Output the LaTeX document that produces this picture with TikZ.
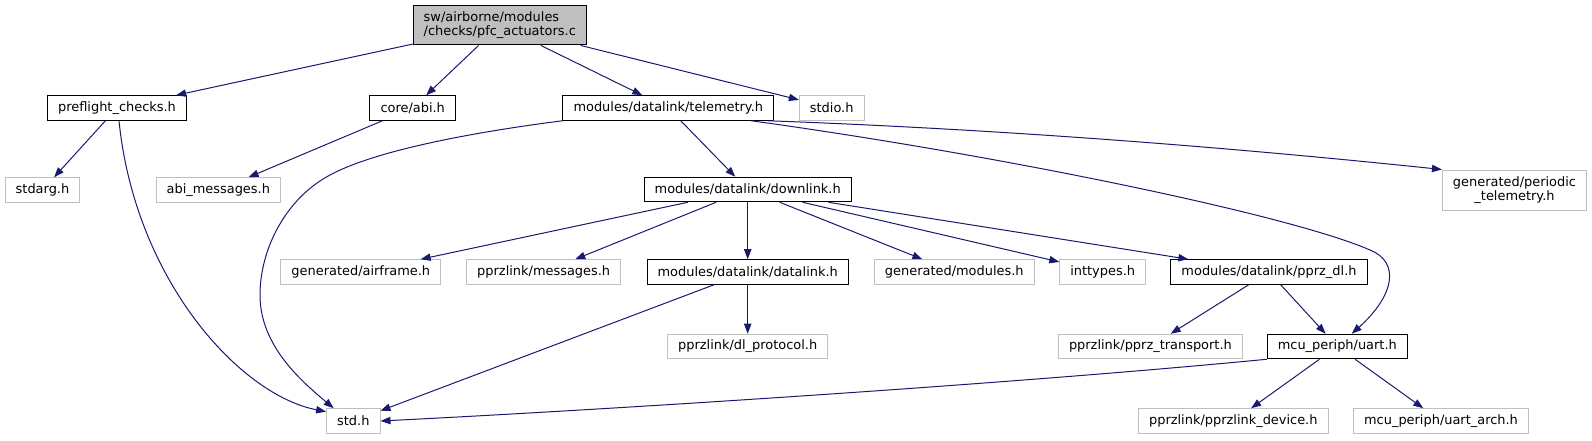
\documentclass[tikz,border=0pt]{standalone}
\usepackage{fontspec}
\setmainfont{DejaVu Sans}
\usetikzlibrary{arrows.meta}
\definecolor{dxblue}{HTML}{191970}
\definecolor{dxgray}{HTML}{BFBFBF}
\begin{document}
\begin{tikzpicture}[x=0.75pt,y=-0.75pt,
  hdrbox/.style={draw=black,fill=white,line width=0.75pt,minimum height=18.4pt,inner xsep=7.9pt,inner ysep=0pt,font=\fontsize{9.7}{10.3}\selectfont},
  extbox/.style={hdrbox,draw=dxgray},
  srcbox/.style={hdrbox,fill=dxgray,align=left,minimum height=29.5pt},
  incl/.style={draw=dxblue,line width=0.75pt,-{Triangle[length=7.5pt,width=5.5pt]}}]
  \useasboundingbox (0,0) rectangle (1592,440);
  \node[srcbox] (root) at (499.8,25.3) {sw/airborne/modules\\/checks/pfc\_actuators.c};
  \node[hdrbox] (pre) at (117,108) {preflight\_checks.h};
  \node[hdrbox] (abi) at (412.7,108) {core/abi.h};
  \node[hdrbox] (tele) at (668.3,108) {modules/datalink/telemetry.h};
  \node[extbox] (stdio) at (831.7,108) {stdio.h};
  \node[extbox] (stdarg) at (42.5,190) {stdarg.h};
  \node[extbox] (abimsg) at (218.3,190) {abi\_messages.h};
  \node[hdrbox] (down) at (747.7,189.5) {modules/datalink/downlink.h};
  \node[extbox,align=center,minimum height=30pt] (peri) at (1514.5,190) {generated/periodic\\\_telemetry.h};
  \node[extbox] (airframe) at (360.8,272) {generated/airframe.h};
  \node[extbox] (msgs) at (543.7,272) {pprzlink/messages.h};
  \node[hdrbox] (dlink) at (747.7,272) {modules/datalink/datalink.h};
  \node[extbox] (genmod) at (954.3,272) {generated/modules.h};
  \node[extbox] (inttypes) at (1102.7,272) {inttypes.h};
  \node[hdrbox] (pprzdl) at (1269,272) {modules/datalink/pprz\_dl.h};
  \node[extbox] (dlproto) at (747.7,346.5) {pprzlink/dl\_protocol.h};
  \node[extbox] (transport) at (1150.4,346.5) {pprzlink/pprz\_transport.h};
  \node[hdrbox] (uart) at (1337.3,346.5) {mcu\_periph/uart.h};
  \node[extbox] (std) at (353.3,421) {std.h};
  \node[extbox] (device) at (1233.3,421) {pprzlink/pprzlink\_device.h};
  \node[extbox] (uartarch) at (1441,421) {mcu\_periph/uart\_arch.h};
  \draw[incl] (root) -- (pre);
  \draw[incl] (root) -- (abi);
  \draw[incl] (root) -- (tele);
  \draw[incl] (root) -- (stdio);
  \draw[incl] (pre) -- (stdarg);
  \draw[incl] ([xshift=1.5pt]pre.south) .. controls (135,280) and (240,395) .. (std.161);
  \draw[incl] (abi) -- (abimsg);
  \draw[incl] (tele) -- (down);
  \draw[incl] (tele.south west) .. controls (490,130) and (380,148) .. (330,175) .. controls (285,199) and (260,250) .. (260,295) .. controls (260,345) and (300,380) .. (std.147);
  \draw[incl] ([xshift=75pt]tele.south) .. controls (993,129) and (1217,146) .. (peri.north west);
  \draw[incl] ([xshift=62.25pt]tele.south) .. controls (1000,155) and (1290,215) .. (1370,250) .. controls (1400,262) and (1395,295) .. ([xshift=10.8pt]uart.north);
  \draw[incl] (down) -- (airframe);
  \draw[incl] (down) -- (msgs);
  \draw[incl] (down) -- (dlink);
  \draw[incl] (down) -- (genmod);
  \draw[incl] (down) -- (inttypes);
  \draw[incl] (down) -- (pprzdl);
  \draw[incl] (dlink) -- (dlproto);
  \draw[incl] (dlink) -- (std);
  \draw[incl] (pprzdl) -- (transport);
  \draw[incl] (pprzdl) -- (uart);
  \draw[incl] (uart.south west) .. controls (1000,385) and (600,410) .. (std.east);
  \draw[incl] (uart) -- (device);
  \draw[incl] (uart) -- (uartarch);
\end{tikzpicture}
\end{document}
